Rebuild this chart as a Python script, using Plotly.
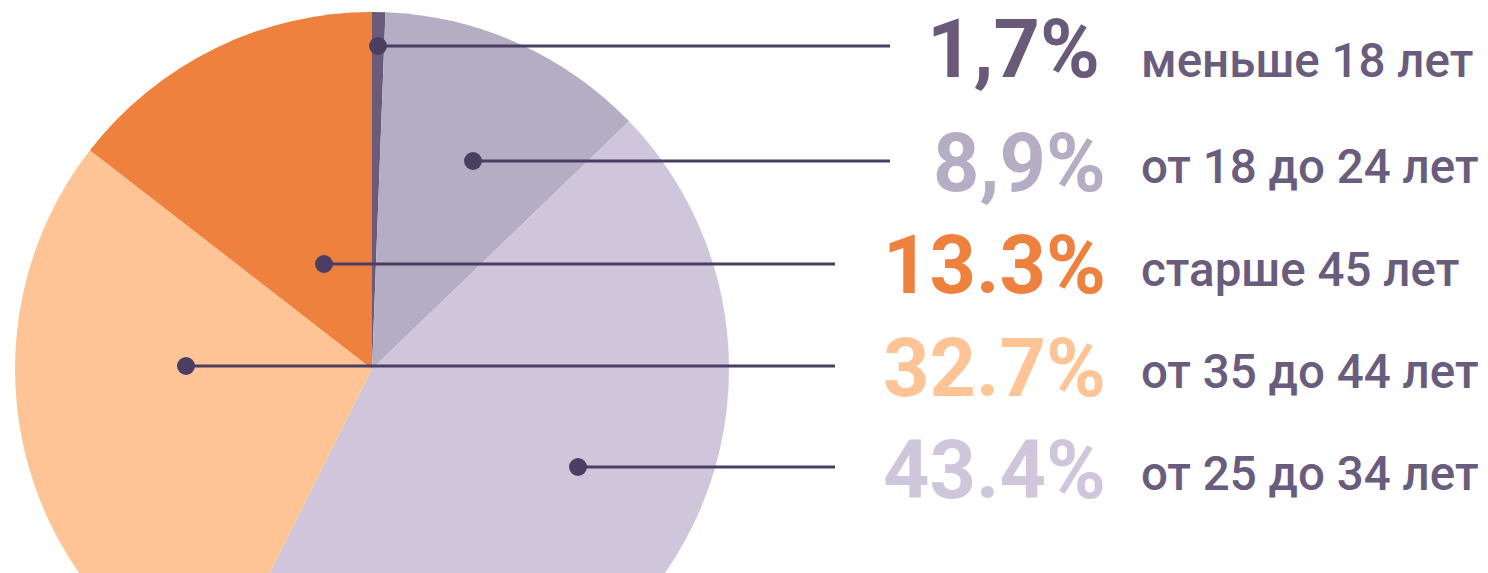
import plotly.graph_objects as go

# ---- data ----
categories = ["меньше 18 лет", "от 18 до 24 лет", "от 25 до 34 лет", "от 35 до 44 лет", "старше 45 лет"]
# slice sizes as drawn in the picture (clockwise from 12 o'clock)
slice_values = [0.6, 12.2, 44.6, 28.1, 14.5]
slice_colors = ["#6a5b7b", "#b5adc3", "#cfc6dc", "#fec495", "#ee813d"]

# legend rows (top to bottom)
row_percents = ["1,7%", "8,9%", "13.3%", "32.7%", "43.4%"]
row_labels = ["меньше 18 лет", "от 18 до 24 лет", "старше 45 лет", "от 35 до 44 лет", "от 25 до 34 лет"]
row_percent_colors = ["#695a7a", "#b5adc3", "#ee813d", "#fec495", "#cfc6dc"]

# ---- layout constants (pixels) ----
W, H = 1488, 740
CX, CY, R = 372, 369, 357
line_y = [46, 161, 264, 366, 467]
pct_y = [49, 163, 265, 368, 470]
label_y = [61, 167, 270, 372, 474]
dot_x = [378, 473, 324, 186, 578]
line_end_x = [890, 890, 835, 835, 835]
pct_right = [1102, 1108, 1108, 1108, 1108]
LABEL_LEFT = 1139
LINE_COLOR = "#4a3f62"
LABEL_COLOR = "#6a5c7c"

fig = go.Figure()
fig.add_trace(go.Pie(
    labels=categories,
    values=slice_values,
    sort=False,
    direction="clockwise",
    rotation=0,
    textinfo="none",
    hoverinfo="label",
    marker=dict(colors=slice_colors, line=dict(width=0)),
    domain=dict(x=[(CX - R) / W, (CX + R) / W], y=[1 - (CY + R) / H, 1 - (CY - R) / H]),
    showlegend=False,
))

shapes = []
for yy, dx, ex in zip(line_y, dot_x, line_end_x):
    shapes.append(dict(type="line", xref="x", yref="y", x0=dx, x1=ex, y0=yy, y1=yy,
                       line=dict(color=LINE_COLOR, width=3), layer="above"))
    shapes.append(dict(type="circle", xref="x", yref="y", x0=dx - 9, x1=dx + 9, y0=yy - 9, y1=yy + 9,
                       fillcolor=LINE_COLOR, line=dict(width=0), layer="above"))

annotations = []
for px, py, ly, p, c, lab in zip(pct_right, pct_y, label_y, row_percents, row_percent_colors, row_labels):
    annotations.append(dict(x=px, y=py, xref="x", yref="y", text=p, showarrow=False,
                            xanchor="right", yanchor="middle",
                            font=dict(family="Roboto", size=81, color=c, weight=700)))
    annotations.append(dict(x=LABEL_LEFT, y=ly, xref="x", yref="y", text=lab, showarrow=False,
                            xanchor="left", yanchor="middle",
                            font=dict(family="Roboto", size=47.5, color=LABEL_COLOR, weight=500)))

fig.update_layout(
    width=W, height=H, autosize=False,
    margin=dict(l=0, r=0, t=0, b=0),
    paper_bgcolor="white", plot_bgcolor="rgba(0,0,0,0)",
    xaxis=dict(range=[0, W], visible=False, fixedrange=True),
    yaxis=dict(range=[H, 0], visible=False, fixedrange=True),
    shapes=shapes,
    annotations=annotations,
)

fig.write_html("out.html", config={"displayModeBar": False},
               post_script="document.body.style.margin='0';document.body.style.overflow='hidden';")
